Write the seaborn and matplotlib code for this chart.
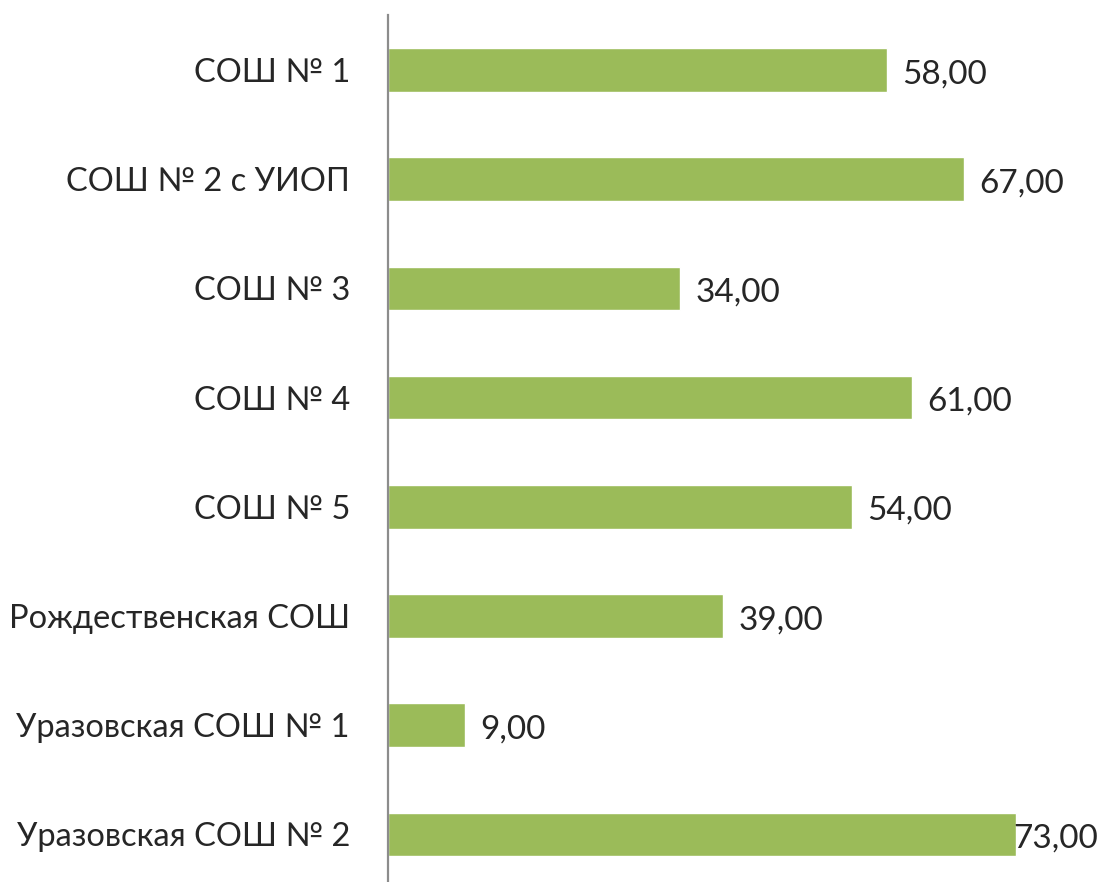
import pandas as pd
import numpy as np
import matplotlib.pyplot as plt
import seaborn as sns

schools = ["СОШ № 1", "СОШ № 2 с УИОП", "СОШ № 3", "СОШ № 4", "СОШ № 5",
           "Рождественская СОШ", "Уразовская СОШ № 1", "Уразовская СОШ № 2"]
scores = [58, 67, 34, 61, 54, 39, 9, 73]

df = pd.DataFrame({"school": schools, "score": scores})

sns.set_style("white")
plt.rcParams['font.family'] = ['Lato', 'DejaVu Sans']

fig = plt.figure(figsize=(11, 8.82), dpi=100)
ax = fig.add_axes([387.5 / 1100, 0, 1 - 387.5 / 1100, 866.6 / 882])

sns.barplot(data=df, x="score", y="school", orient="h", color="#9BBB59",
            width=0.4, saturation=1, ax=ax)

labels = [f"{v:.2f}".replace('.', ',') for v in scores]
texts = ax.bar_label(ax.containers[0], labels=labels, padding=11, fontsize=24)
for t in texts:
    t.set_position((11, -3))
# last label doesn't fit outside, Excel pulls it back onto the bar end
texts[-1].set_position((-2, -3))

ax.set_xlim(0, 82.8)
ax.set_ylim(7.436, -0.5)
ax.set_xlabel("")
ax.set_ylabel("")
ax.set_xticks([])
ax.tick_params(axis='y', length=0, pad=27, labelsize=23.5)

for side in ['top', 'right', 'bottom']:
    ax.spines[side].set_visible(False)
ax.spines['left'].set_color('#8c8c8c')
ax.spines['left'].set_linewidth(1.6)

fig.savefig("out.png", dpi=100)
